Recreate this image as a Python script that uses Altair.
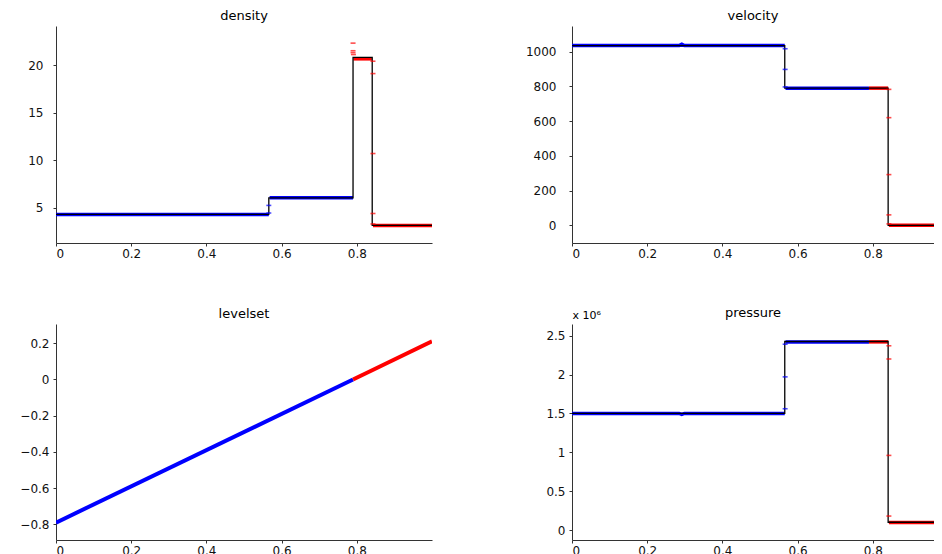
import altair as alt
import pandas as pd

X_TICKS = [0, 0.2, 0.4, 0.6, 0.8]
BLUE, RED = "#0000ff", "#ff0000"
FONT = "DejaVu Sans"

# ---------------- density ----------------
den_exact_x = [0.0, 0.566, 0.566, 0.790, 0.790, 0.841, 0.841, 1.0]
den_exact_y = [4.30, 4.30, 6.05, 6.05, 20.80, 20.80, 3.15, 3.15]
den_seg_id = [1, 1, 2, 2, 3, 3, 4, 4]
den_seg_ph = ["b", "b", "b", "b", "r", "r", "r", "r"]
den_seg_x = [0.0, 0.566, 0.568, 0.790, 0.791, 0.840, 0.843, 1.0]
den_seg_y = [4.30, 4.30, 6.05, 6.05, 20.65, 20.65, 3.15, 3.15]
den_pt_ph = ["b", "b", "r", "r", "r", "r", "r", "r", "r", "r", "r"]
den_pt_x = [0.566, 0.566, 0.790, 0.790, 0.790, 0.791, 0.843, 0.843, 0.843, 0.843, 0.843]
den_pt_y = [5.25, 4.45, 22.3, 21.5, 21.3, 21.1, 20.4, 19.1, 10.7, 4.4, 3.3]

# ---------------- velocity ----------------
vel_exact_x = [0.0, 0.566, 0.566, 0.841, 0.841, 1.0]
vel_exact_y = [1035, 1035, 790, 790, 0, 0]
vel_seg_id = [1, 1, 1, 1, 1, 2, 2, 3, 3, 4, 4]
vel_seg_ph = ["b", "b", "b", "b", "b", "b", "b", "r", "r", "r", "r"]
vel_seg_x = [0.0, 0.285, 0.292, 0.299, 0.566, 0.568, 0.790, 0.790, 0.841, 0.843, 1.0]
vel_seg_y = [1035, 1035, 1043, 1035, 1035, 790, 790, 790, 790, 0, 0]
vel_pt_ph = ["b", "b", "b", "r", "r", "r", "r", "r"]
vel_pt_x = [0.567, 0.567, 0.567, 0.843, 0.843, 0.843, 0.843, 0.843]
vel_pt_y = [1017, 898, 797, 783, 620, 292, 60, 8]

# ---------------- levelset ----------------
lev_seg_id = [1, 1, 2, 2]
lev_seg_ph = ["b", "b", "r", "r"]
lev_seg_x = [0.0, 0.790, 0.790, 1.0]
lev_seg_y = [-0.79, 0.0, 0.0, 0.21]

# ---------------- pressure (x 10^6) ----------------
pre_exact_x = [0.0, 0.566, 0.566, 0.841, 0.841, 1.0]
pre_exact_y = [1.50, 1.50, 2.425, 2.425, 0.10, 0.10]
pre_seg_id = [1, 1, 1, 1, 1, 2, 2, 3, 3, 4, 4]
pre_seg_ph = ["b", "b", "b", "b", "b", "b", "b", "r", "r", "r", "r"]
pre_seg_x = [0.0, 0.285, 0.292, 0.299, 0.566, 0.568, 0.790, 0.790, 0.841, 0.843, 1.0]
pre_seg_y = [1.50, 1.50, 1.488, 1.50, 1.50, 2.42, 2.42, 2.42, 2.42, 0.098, 0.098]
pre_pt_ph = ["b", "b", "b", "r", "r", "r", "r"]
pre_pt_x = [0.567, 0.567, 0.567, 0.843, 0.843, 0.843, 0.843]
pre_pt_y = [2.39, 1.97, 1.56, 2.37, 2.20, 0.96, 0.18]


def color_enc():
    return alt.Color("ph:N", scale=alt.Scale(domain=["b", "r"], range=[BLUE, RED]), legend=None)


def panel(title, xdom, width, height, ydom, yticks, seg, exact=None, pts=None,
          lab_pad=7, ytitle=None, seg_w=3.5, title_offset=3):
    xenc = alt.X("x:Q", scale=alt.Scale(domain=xdom, nice=False, zero=False),
                 axis=alt.Axis(values=X_TICKS, format="~f", title=None))
    yaxis = dict(values=yticks, format="~f", labelPadding=lab_pad,
                 minExtent=48, maxExtent=48)
    if ytitle:
        yaxis.update(title=ytitle, titleAngle=0, titleX=0, titleY=-6,
                     titleAlign="left", titleBaseline="alphabetic",
                     titleFont=FONT, titleFontSize=11, titleFontWeight="normal",
                     titleColor="#000000")
    else:
        yaxis.update(title=None)
    yenc = alt.Y("y:Q", scale=alt.Scale(domain=ydom, nice=False, zero=False),
                 axis=alt.Axis(**yaxis))

    seg_df = pd.DataFrame({"x": seg[0], "y": seg[1], "id": seg[2], "ph": seg[3],
                           "i": list(range(len(seg[0])))})
    layers = [
        alt.Chart(seg_df).mark_line(strokeWidth=seg_w, clip=True).encode(
            x=xenc, y=yenc, color=color_enc(), detail="id:N", order="i:Q")
    ]
    if exact is not None:
        ex_df = pd.DataFrame({"x": exact[0], "y": exact[1], "i": list(range(len(exact[0])))})
        layers.append(
            alt.Chart(ex_df).mark_line(strokeWidth=1.3, color="#000000", clip=True).encode(
                x=xenc, y=yenc, order="i:Q"))
    if pts is not None:
        pt_df = pd.DataFrame({"x": pts[0], "y": pts[1], "ph": pts[2]})
        layers.append(
            alt.Chart(pt_df).mark_tick(orient="horizontal", size=5, thickness=1.6, clip=True).encode(
                x=xenc, y=yenc, color=color_enc()))
    return alt.layer(*layers).properties(
        width=width, height=height,
        title=alt.TitleParams(title, font=FONT, fontSize=13, fontWeight="normal",
                              color="#000000", offset=title_offset, anchor="middle",
                              frame="group"))


LW, RW = 376, 362
LX, RX = [0, 1.0], [0, 0.963]

density = panel("density", LX, LW, 217, [1.3, 24.1], [5, 10, 15, 20],
                (den_seg_x, den_seg_y, den_seg_id, den_seg_ph),
                exact=(den_exact_x, den_exact_y),
                pts=(den_pt_x, den_pt_y, den_pt_ph), lab_pad=10)
velocity = panel("velocity", RX, RW, 217, [-102, 1148], [0, 200, 400, 600, 800, 1000],
                 (vel_seg_x, vel_seg_y, vel_seg_id, vel_seg_ph),
                 exact=(vel_exact_x, vel_exact_y),
                 pts=(vel_pt_x, vel_pt_y, vel_pt_ph), lab_pad=13)
levelset = panel("levelset", LX, LW, 216, [-0.886, 0.306], [-0.8, -0.6, -0.4, -0.2, 0, 0.2],
                 (lev_seg_x, lev_seg_y, lev_seg_id, lev_seg_ph), seg_w=4, lab_pad=4)
pressure = panel("pressure", RX, RW, 216, [-0.128, 2.65], [0, 0.5, 1, 1.5, 2, 2.5],
                 (pre_seg_x, pre_seg_y, pre_seg_id, pre_seg_ph),
                 exact=(pre_exact_x, pre_exact_y),
                 pts=(pre_pt_x, pre_pt_y, pre_pt_ph), ytitle="x 10\u2076",
                 lab_pad=4, title_offset=-11)

top = alt.hconcat(density, velocity, spacing=92)
bottom = alt.hconcat(levelset, pressure, spacing=92)
chart = alt.vconcat(top, bottom, spacing=48).properties(
    padding={"left": 0, "top": 2, "right": 0, "bottom": 0}
).configure_view(
    stroke=None
).configure_axis(
    grid=False, domainColor="#333333", domainWidth=1, tickColor="#333333",
    tickSize=3, labelFont=FONT, labelFontSize=12, labelColor="#111111",
    labelPadding=2
).configure_concat(spacing=0)

chart.save("out.html", embed_options={"renderer": "svg", "actions": False})
